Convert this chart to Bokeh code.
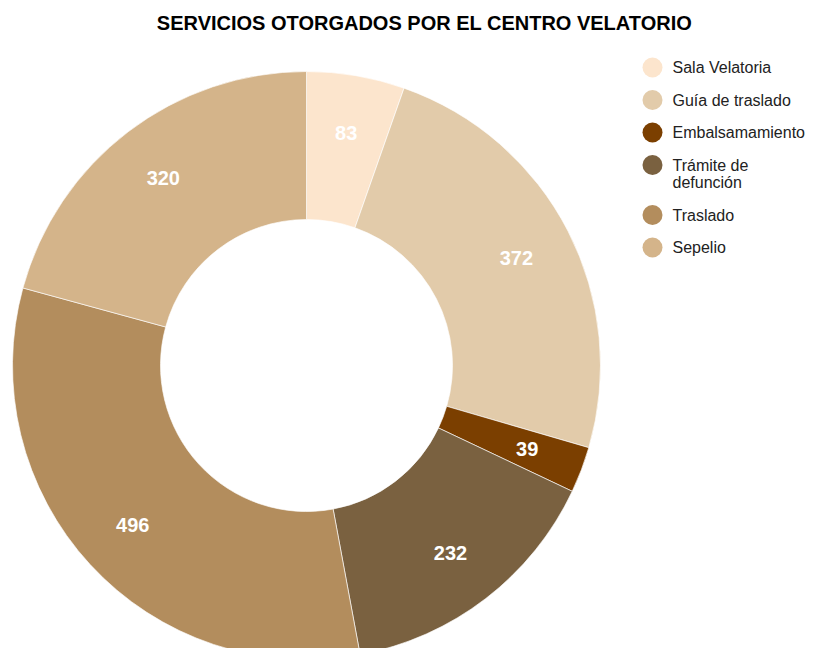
import math
from bokeh.plotting import figure
from bokeh.models import Range1d, ColumnDataSource
from bokeh.core.properties import value
from bokeh.embed import file_html
from bokeh.resources import INLINE

title = "SERVICIOS OTORGADOS POR EL CENTRO VELATORIO"
categories = ["Sala Velatoria", "Guía de traslado", "Embalsamamiento",
              "Trámite de defunción", "Traslado", "Sepelio"]
values = [83, 372, 39, 232, 496, 320]
colors = ["#FCE5CD", "#E2CBAA", "#7B3F00", "#7A6140", "#B38D5D", "#D4B48A"]

W, H = 810, 648
p = figure(width=W, height=H, x_range=Range1d(0, W), y_range=Range1d(-H, 0),
           output_backend="svg", toolbar_location=None, min_border=0,
           x_axis_location=None, y_axis_location=None)
p.grid.visible = False
p.outline_line_color = None
p.background_fill_color = "white"

FONT = value("Liberation Sans")
cx, cy = 306, -365
R_out, R_in = 294, 146
R_lab = 236

total = sum(values)
starts, ends, lx, ly, labs = [], [], [], [], []
cum = 0
for v in values:
    a0 = cum / total * 2 * math.pi
    a1 = (cum + v) / total * 2 * math.pi
    starts.append(math.pi / 2 - a0)
    ends.append(math.pi / 2 - a1)
    mid = (a0 + a1) / 2
    lx.append(cx + R_lab * math.sin(mid))
    ly.append(cy + R_lab * math.cos(mid))
    labs.append(str(v))
    cum += v

src = ColumnDataSource(dict(start=starts, end=ends, color=colors, lx=lx, ly=ly, lab=labs))
p.annular_wedge(x=cx, y=cy, inner_radius=R_in, outer_radius=R_out,
                start_angle="start", end_angle="end", direction="clock",
                fill_color="color", line_color="white", line_width=0.8, line_alpha=0.8,
                source=src)
p.text(x="lx", y="ly", text="lab", source=src, text_color="white",
       text_font=FONT, text_font_style="bold", text_font_size="20px",
       text_align="center", text_baseline="middle")

# title
p.text(x=[424], y=[-22], text=[title], text_font=FONT, text_font_style="bold",
       text_font_size="20px", text_color="#000000", text_align="center",
       text_baseline="middle")

# legend
def wrap(s, n=16):
    words, lines, cur = s.split(" "), [], ""
    for w in words:
        if cur and len(cur) + 1 + len(w) > n:
            lines.append(cur)
            cur = w
        else:
            cur = (cur + " " + w) if cur else w
    lines.append(cur)
    return lines

leg_x, leg_y = 652, -67
row_gap, line_h = 32.5, 17.5
cx_l, cy_l, c_l, tx, ty, tt = [], [], [], [], [], []
y = leg_y
for cat, col in zip(categories, colors):
    cx_l.append(leg_x)
    cy_l.append(y)
    c_l.append(col)
    lines = wrap(cat)
    for i, ln in enumerate(lines):
        tx.append(leg_x + 20)
        ty.append(y - i * line_h)
        tt.append(ln)
    y -= row_gap + (len(lines) - 1) * line_h
p.scatter(x=cx_l, y=cy_l, size=20, color=c_l, marker="circle", line_color=None)
p.text(x=tx, y=ty, text=tt, text_font=FONT, text_font_size="16px",
       text_color="#222222", text_align="left", text_baseline="middle")

open("out.html", "w").write(file_html(p, INLINE))
